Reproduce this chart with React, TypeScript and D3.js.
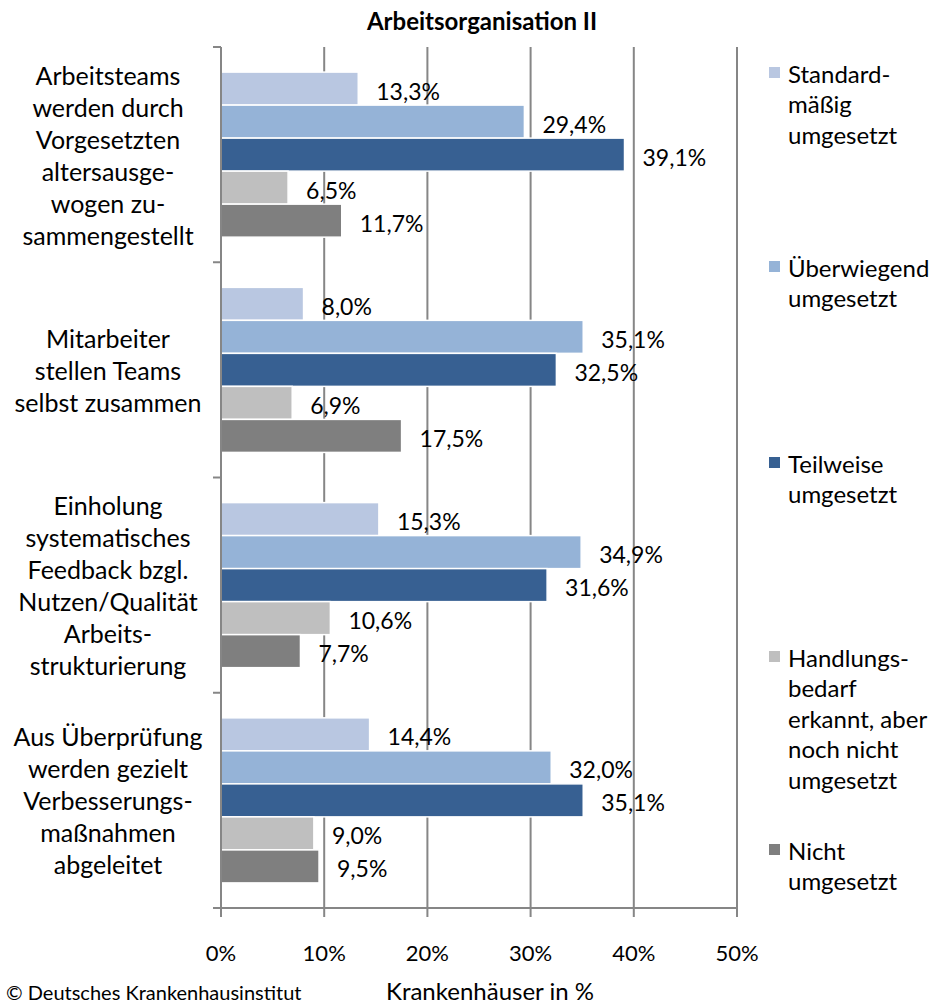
import React from "react";
import * as d3 from "d3";

const categories: string[][] = [
  ["Arbeitsteams", "werden durch", "Vorgesetzten", "altersausge-", "wogen zu-", "sammengestellt"],
  ["Mitarbeiter", "stellen Teams", "selbst zusammen"],
  ["Einholung", "systematisches", "Feedback bzgl.", "Nutzen/Qualität", "Arbeits-", "strukturierung"],
  ["Aus Überprüfung", "werden gezielt", "Verbesserungs-", "maßnahmen", "abgeleitet"],
];

const seriesNames: string[][] = [
  ["Standard-", "mäßig", "umgesetzt"],
  ["Überwiegend", "umgesetzt"],
  ["Teilweise", "umgesetzt"],
  ["Handlungs-", "bedarf", "erkannt, aber", "noch nicht", "umgesetzt"],
  ["Nicht", "umgesetzt"],
];

const standardmaessig = [13.3, 8.0, 15.3, 14.4];
const ueberwiegend = [29.4, 35.1, 34.9, 32.0];
const teilweise = [39.1, 32.5, 31.6, 35.1];
const handlungsbedarf = [6.5, 6.9, 10.6, 9.0];
const nicht = [11.7, 17.5, 7.7, 9.5];

const xTicks = [0, 10, 20, 30, 40, 50];

const seriesValues = [standardmaessig, ueberwiegend, teilweise, handlungsbedarf, nicht];
const colors = ["#B9C7E1", "#95B3D7", "#376092", "#BFBFBF", "#7F7F7F"];

const W = 937;
const H = 1003;
const FONT = "Lato, 'Noto Sans', sans-serif";
const GRID = "#868686";

// legend first-line centers (layout)
const legendTops = [73, 267, 463, 657, 850];

export default function App() {
  const x = d3.scaleLinear().domain([0, 50]).range([221, 737]);
  const catIdx = categories.map((_, i) => String(i));
  const y = d3.scaleBand().domain(catIdx).range([47, 908]).padding(0);
  const inner = d3
    .scaleBand()
    .domain(seriesValues.map((_, i) => String(i)))
    .range([0, y.bandwidth()])
    .paddingInner(0)
    .paddingOuter(0.76);
  const fmt = (v: number) => d3.format(".1f")(v).replace(".", ",") + "%";
  const boundaries = [...catIdx.map((c) => y(c) as number), 908];
  const lineH = 32;

  return (
    <svg
      width={W}
      height={H}
      style={{ position: "absolute", left: 0, top: 0, background: "#fff" }}
      fontFamily={FONT}
    >
      <rect x={0} y={0} width={W} height={H} fill="#fff" />
      <text x={482} y={30} textAnchor="middle" fontWeight="bold" fontSize={24} fill="#000">
        Arbeitsorganisation II
      </text>

      {/* gridlines */}
      {xTicks.slice(1).map((t) => (
        <line key={"g" + t} x1={x(t)} x2={x(t)} y1={47} y2={917} stroke={GRID} strokeWidth={2} />
      ))}

      {/* bars */}
      {seriesValues.map((vals, s) =>
        vals.map((v, c) => {
          const by = (y(String(c)) as number) + (inner(String(s)) as number);
          return (
            <rect
              key={`b${s}-${c}`}
              x={x(0)}
              y={by}
              width={x(v) - x(0)}
              height={inner.bandwidth()}
              fill={colors[s]}
              stroke="#fff"
              strokeWidth={1.5}
            />
          );
        })
      )}

      {/* axes */}
      <line x1={x(0)} x2={x(0)} y1={47} y2={917} stroke={GRID} strokeWidth={2} />
      <line x1={213} x2={x(50)} y1={908} y2={908} stroke={GRID} strokeWidth={2} />
      {boundaries.map((b, i) => (
        <line key={"yt" + i} x1={213} x2={x(0)} y1={b} y2={b} stroke={GRID} strokeWidth={2} />
      ))}

      {/* value labels */}
      {seriesValues.map((vals, s) =>
        vals.map((v, c) => {
          const by = (y(String(c)) as number) + (inner(String(s)) as number) + inner.bandwidth() / 2;
          return (
            <text
              key={`l${s}-${c}`}
              x={x(v) + 18}
              y={by + 2}
              dominantBaseline="central"
              fontSize={23}
              fill="#000"
            >
              {fmt(v)}
            </text>
          );
        })
      )}

      {/* category labels */}
      {categories.map((lines, c) => {
        const cy = (y(String(c)) as number) + y.bandwidth() / 2;
        const start = cy - ((lines.length - 1) * lineH) / 2;
        return lines.map((ln, i) => (
          <text
            key={`c${c}-${i}`}
            x={108}
            y={start + i * lineH}
            textAnchor="middle"
            dominantBaseline="central"
            fontSize={25}
            fill="#000"
          >
            {ln}
          </text>
        ));
      })}

      {/* x tick labels */}
      {xTicks.map((t) => (
        <text
          key={"xt" + t}
          x={x(t)}
          y={952}
          textAnchor="middle"
          dominantBaseline="central"
          fontSize={22}
          fill="#000"
        >
          {t}%
        </text>
      ))}

      <text x={490} y={990} textAnchor="middle" dominantBaseline="central" fontSize={24} fill="#000">
        Krankenhäuser in %
      </text>
      <text x={6} y={992} dominantBaseline="central" fontSize={20} fill="#000">
        © Deutsches Krankenhausinstitut
      </text>

      {/* legend */}
      {seriesNames.map((lines, s) => (
        <g key={"lg" + s}>
          <rect x={769} y={legendTops[s] - 6} width={11} height={11} fill={colors[s]} />
          {lines.map((ln, i) => (
            <text
              key={i}
              x={788}
              y={legendTops[s] + i * 30.5}
              dominantBaseline="central"
              fontSize={24}
              fill="#000"
            >
              {ln}
            </text>
          ))}
        </g>
      ))}
    </svg>
  );
}
